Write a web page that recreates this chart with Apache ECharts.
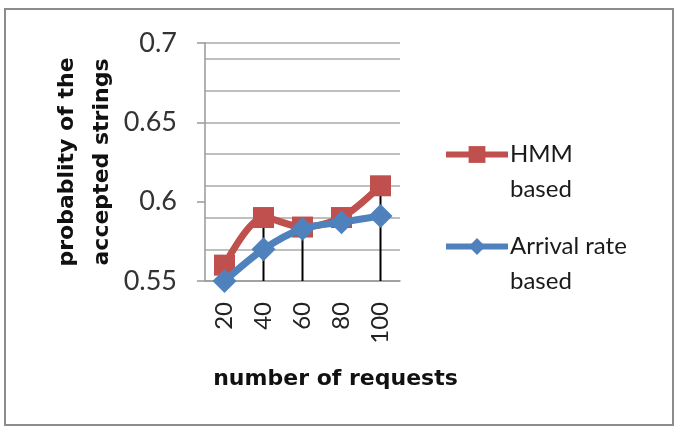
<!DOCTYPE html>
<html>
<head>
<meta charset="utf-8">
<script src="https://cdn.jsdelivr.net/npm/echarts@6/dist/echarts.min.js"></script>
<style>
  html, body { margin: 0; padding: 0; background: #fff; }
  #chart { width: 683px; height: 432px; }
</style>
</head>
<body>
<div id="chart"></div>
<script>
// chart data
const requests = ["20", "40", "60", "80", "100"];
const hmmBased = [0.56, 0.59, 0.584, 0.59, 0.61];
const arrivalRateBased = [0.55, 0.57, 0.583, 0.587, 0.591];
// black drop lines under some of the points
const dropLines = [0.558, 0.59, 0.584, "-", 0.61];

const font = "Lato";
const titleFont = "DejaVu Sans";

const chart = echarts.init(document.getElementById("chart"));

chart.setOption({
    animation: false,
    backgroundColor: "#fff",
    textStyle: { fontFamily: font },
    graphic: [
        {
            type: "rect",
            shape: { x: 5, y: 9, width: 668, height: 416 },
            style: { fill: "none", stroke: "#8c8c8c", lineWidth: 2 },
            silent: true,
        },
    ],
    grid: { left: 205, right: 283, top: 43, bottom: 151 },
    legend: {
        data: ["HMM based", "Arrival rate based"],
        orient: "vertical",
        left: 443,
        top: 102,
        padding: 0,
        itemWidth: 62,
        itemHeight: 21,
        itemGap: -13,
        lineStyle: { width: 6 },
        // leading blank line keeps the icon level with the first text line
        formatter: (name) =>
            name === "HMM based" ? "\nHMM\nbased" : "\nArrival rate\nbased",
        textStyle: {
            fontFamily: font,
            fontSize: 24,
            color: "#1a1a1a",
            lineHeight: 35,
            padding: [0, 0, 0, -3],
        },
    },
    xAxis: {
        type: "category",
        data: requests,
        boundaryGap: true,
        name: "number of requests",
        nameLocation: "middle",
        nameGap: 87,
        nameTextStyle: {
            fontFamily: titleFont,
            fontSize: 22,
            fontWeight: "bold",
            color: "#111",
            padding: [0, 0, 0, 66],
        },
        axisLine: { lineStyle: { color: "#999", width: 1.5 } },
        axisTick: { show: false },
        axisLabel: {
            rotate: 90,
            margin: 21,
            fontSize: 24,
            color: "#222",
            fontFamily: font,
        },
        splitLine: { show: false },
    },
    yAxis: [
        {
            type: "value",
            min: 0.55,
            max: 0.7,
            interval: 0.05,
            name: "probablity of the\naccepted strings",
            nameLocation: "middle",
            nameGap: 85,
            nameRotate: 90,
            nameTextStyle: {
                fontFamily: titleFont,
                fontSize: 22,
                fontWeight: "bold",
                color: "#111",
                lineHeight: 35,
            },
            axisLine: { show: true, lineStyle: { color: "#999", width: 1.5 } },
            axisTick: {
                show: true,
                length: 8,
                lineStyle: { color: "#999", width: 1.5 },
            },
            axisLabel: {
                margin: 28,
                fontSize: 27,
                color: "#333",
                fontFamily: font,
                formatter: (v) => String(+v.toFixed(2)),
            },
            splitLine: { show: false },
        },
        {
            // gridlines only, every 0.02 from the bottom
            type: "value",
            min: 0,
            max: 0.15,
            interval: 0.02,
            position: "left",
            axisLine: { show: false },
            axisTick: { show: false },
            axisLabel: { show: false },
            splitLine: { show: true, lineStyle: { color: "#aaa", width: 1.5 } },
        },
    ],
    series: [
        {
            name: "drop",
            type: "bar",
            yAxisIndex: 0,
            data: dropLines,
            barWidth: 2,
            itemStyle: { color: "#000" },
            z: 1,
            silent: true,
        },
        {
            name: "HMM based",
            type: "line",
            yAxisIndex: 0,
            data: hmmBased,
            smooth: 0.3,
            symbol: "rect",
            symbolSize: 21,
            lineStyle: { color: "#c0504d", width: 7 },
            itemStyle: { color: "#c0504d" },
            z: 3,
        },
        {
            name: "Arrival rate based",
            type: "line",
            yAxisIndex: 0,
            data: arrivalRateBased,
            smooth: 0.3,
            symbol: "diamond",
            symbolSize: 24,
            lineStyle: { color: "#4f81bd", width: 7 },
            itemStyle: { color: "#4f81bd" },
            z: 4,
        },
    ],
});
</script>
</body>
</html>
